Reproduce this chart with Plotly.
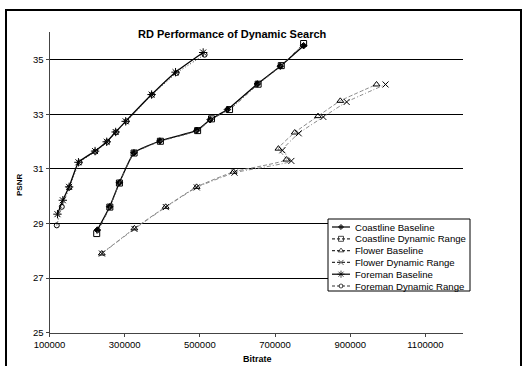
import plotly.graph_objects as go

foreman_base_x = [121200, 135400, 152200, 177000, 221200, 252200, 276000, 302600, 371600, 435300, 508800]
foreman_base_y = [29.34, 29.85, 30.34, 31.24, 31.65, 31.99, 32.35, 32.74, 33.72, 34.54, 35.26]
foreman_dyn_x = [119400, 132700, 153000, 180000, 222000, 254000, 277000, 305000, 373000, 438000, 512600]
foreman_dyn_y = [28.93, 29.61, 30.32, 31.23, 31.63, 31.99, 32.34, 32.74, 33.71, 34.51, 35.18]

coast_base_x = [227400, 260100, 285800, 324700, 393700, 491900, 527300, 573300, 653000, 714000, 776000]
coast_base_y = [28.76, 29.61, 30.49, 31.59, 32.02, 32.41, 32.80, 33.17, 34.11, 34.76, 35.51]
coast_dyn_x = [225600, 260500, 286000, 325000, 395000, 494000, 531000, 579000, 655000, 716500, 776000]
coast_dyn_y = [28.63, 29.60, 30.48, 31.58, 32.01, 32.40, 32.83, 33.17, 34.10, 34.78, 35.59]

flower_base_x = [239100, 325800, 409000, 491300, 589500, 730200, 709000, 752300, 814300, 873600, 970000]
flower_base_y = [27.90, 28.82, 29.61, 30.34, 30.89, 31.34, 31.74, 32.33, 32.93, 33.49, 34.09]
flower_dyn_x = [239500, 326000, 409500, 491800, 592200, 743400, 719600, 763000, 828500, 890500, 994000]
flower_dyn_y = [27.90, 28.80, 29.60, 30.32, 30.86, 31.29, 31.68, 32.30, 32.90, 33.45, 34.09]

x_ticks = [100000, 300000, 500000, 700000, 900000, 1100000]
y_ticks = [25, 27, 29, 31, 33, 35]

FONT = "Liberation Sans, Arial, sans-serif"
W, H = 526, 366

series = [
    ("Coastline Baseline", coast_base_x, coast_base_y, "solid", "black", "diamond", 5, 1.3),
    ("Coastline Dynamic Range", coast_dyn_x, coast_dyn_y, "4px,2px,1px,2px", "#555555", "square-open", 6, 1.0),
    ("Flower Baseline", flower_base_x, flower_base_y, "4px,2px", "#8a8a8a", "triangle-up-open", 6, 1.0),
    ("Flower Dynamic Range", flower_dyn_x, flower_dyn_y, "4px,2px,1px,2px", "#8a8a8a", "x-thin-open", 6, 1.0),
    ("Foreman Baseline", foreman_base_x, foreman_base_y, "solid", "black", "asterisk-open", 7, 1.3),
    ("Foreman Dynamic Range", foreman_dyn_x, foreman_dyn_y, "1px,2px", "#333333", "circle-open", 5, 1.0),
]

fig = go.Figure()
for name, xs, ys, dash, col, sym, size, w in series:
    fig.add_trace(go.Scatter(
        x=xs, y=ys, name=name, mode="lines+markers", showlegend=False,
        line=dict(color=col, dash=dash, width=w, shape="spline", smoothing=0.4),
        marker=dict(symbol=sym, size=size, color="black", line=dict(color="black", width=1)),
        xaxis="x", yaxis="y",
    ))

# --- custom legend in pixel coordinates (overlay axes x2/y2) ---
leg_left, leg_top, leg_right, leg_bottom = 328, 219, 470, 291
row_y0, row_dy = 227, 11.8
shapes = []
annotations = []
lx, ly, lsym, lsize = [], [], [], []
for i, (name, xs, ys, dash, col, sym, size, w) in enumerate(series):
    yy = row_y0 + i * row_dy
    shapes.append(dict(type="line", xref="x2", yref="y2", x0=332, x1=350, y0=yy, y1=yy,
                       line=dict(color="black" if dash == "solid" else "#333333",
                                 width=1.2, dash="solid" if dash == "solid" else "3px,2px")))
    annotations.append(dict(xref="x2", yref="y2", x=353, y=yy, text=name, showarrow=False,
                            xanchor="left", yanchor="middle",
                            font=dict(size=9.6, family=FONT, color="black")))
    lx.append(341)
    ly.append(yy)
    lsym.append(sym)
    lsize.append(size - 1)

fig.add_trace(go.Scatter(x=lx, y=ly, mode="markers", showlegend=False, hoverinfo="skip",
                         marker=dict(symbol=lsym, size=lsize, color="black",
                                     line=dict(color="black", width=1)),
                         xaxis="x2", yaxis="y2"))

shapes.append(dict(type="rect", xref="x2", yref="y2", x0=leg_left, x1=leg_right,
                   y0=leg_top, y1=leg_bottom, line=dict(color="black", width=1),
                   fillcolor="white", layer="below"))
# outer chart border
shapes.append(dict(type="rect", xref="x2", yref="y2", x0=6, x1=521, y0=10, y1=372,
                   line=dict(color="black", width=2), fillcolor="rgba(0,0,0,0)", layer="above"))

annotations += [
    dict(xref="x2", yref="y2", x=232, y=34, text="<b>RD Performance of Dynamic Search</b>",
         showarrow=False, xanchor="center", yanchor="middle", font=dict(size=11, family=FONT)),
    dict(xref="x2", yref="y2", x=257, y=359, text="<b>Bitrate</b>",
         showarrow=False, xanchor="center", yanchor="middle", font=dict(size=9, family=FONT)),
    dict(xref="x2", yref="y2", x=19, y=185, text="<b>PSNR</b>", textangle=-90,
         showarrow=False, xanchor="center", yanchor="middle", font=dict(size=8, family=FONT)),
]

fig.update_layout(
    width=W, height=H,
    margin=dict(l=0, r=0, t=0, b=0),
    paper_bgcolor="white", plot_bgcolor="rgba(0,0,0,0)",
    font=dict(family=FONT, size=9, color="black"),
    showlegend=False,
    xaxis=dict(domain=[49.5 / W, 463 / W], anchor="y", range=[100000, 1200000],
               tickvals=x_ticks, ticktext=[str(v) for v in x_ticks],
               showgrid=False, zeroline=False, showline=True, linecolor="#444", linewidth=1,
               ticks="outside", ticklen=3, tickcolor="#444", automargin=False,
               tickfont=dict(size=9.5)),
    yaxis=dict(domain=[(H - 332.7) / H, (H - 32.3) / H], anchor="x", range=[25, 36],
               tickvals=y_ticks, showgrid=True, gridcolor="black", gridwidth=1,
               zeroline=False, showline=True, linecolor="#444", linewidth=1,
               ticks="outside", ticklen=3, tickcolor="#444", automargin=False,
               tickfont=dict(size=9.5)),
    xaxis2=dict(domain=[0, 1], anchor="y2", range=[0, W], visible=False, fixedrange=True),
    yaxis2=dict(domain=[0, 1], anchor="x2", range=[H, 0], visible=False, fixedrange=True),
    shapes=shapes,
    annotations=annotations,
)

fig.write_html(
    "out.html",
    config={"displayModeBar": False},
    post_script="document.body.style.margin='0';document.body.style.overflow='hidden';",
)
